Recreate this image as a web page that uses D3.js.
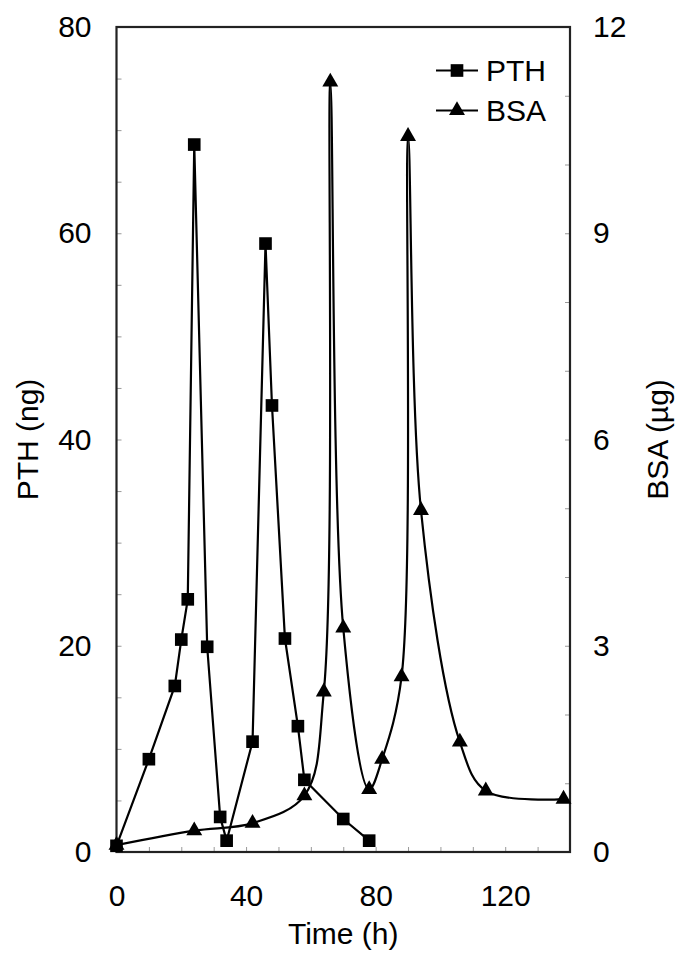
<!DOCTYPE html>
<html>
<head>
<meta charset="utf-8">
<script src="https://cdn.jsdelivr.net/npm/d3@7"></script>
<style>
  body { margin: 0; background: #fff; }
  text { font-family: "Liberation Sans", Arial, sans-serif; fill: #000; }
</style>
</head>
<body>
<script>
// PTH release (left axis, ng)
var timePTH = [0, 10, 18, 20, 22, 24, 28, 32, 34, 42, 46, 48, 52, 56, 58, 70, 78];
var pth = [0.6, 9, 16.1, 20.6, 24.5, 68.6, 19.9, 3.4, 1.1, 10.7, 59, 43.3, 20.7, 12.2, 7, 3.2, 1.1];
// BSA release (right axis, ug)
var timeBSA = [0, 24, 42, 58, 64, 66, 70, 78, 82, 88, 90, 94, 106, 114, 138];
var bsa = [0.1, 0.31, 0.42, 0.82, 2.33, 11.2, 3.26, 0.91, 1.35, 2.55, 10.41, 4.97, 1.6, 0.89, 0.77];

var xTicks = [0, 40, 80, 120];
var yLeftTicks = [0, 20, 40, 60, 80];
var yRightTicks = [0, 3, 6, 9, 12];

var W = 690, H = 962;
var m = {left: 116.5, top: 27, right: 120, bottom: 110};
var iw = W - m.left - m.right, ih = H - m.top - m.bottom;

var svg = d3.select("body").append("svg").attr("width", W).attr("height", H);
var g = svg.append("g").attr("transform", "translate(" + m.left + "," + m.top + ")");

var x = d3.scaleLinear().domain([0, 140]).range([0, iw]);
var yL = d3.scaleLinear().domain([0, 80]).range([ih, 0]);
var yR = d3.scaleLinear().domain([0, 12]).range([ih, 0]);

// minor ticks inside the frame
var tickCol = "#999";
g.append("g").call(d3.axisBottom(x).tickValues(d3.range(10, 140, 10)).tickSize(-5).tickFormat(""))
  .attr("transform", "translate(0," + ih + ")")
  .call(function(a) { a.select(".domain").remove(); a.selectAll("line").attr("stroke", tickCol); });
g.append("g").call(d3.axisLeft(yL).tickValues(d3.range(5, 80, 5)).tickSize(-5).tickFormat(""))
  .call(function(a) { a.select(".domain").remove(); a.selectAll("line").attr("stroke", tickCol); });
g.append("g").attr("transform", "translate(" + iw + ",0)")
  .call(d3.axisRight(yR).tickValues(d3.range(1, 12, 1)).tickSize(-5).tickFormat(""))
  .call(function(a) { a.select(".domain").remove(); a.selectAll("line").attr("stroke", tickCol); });

// tick labels
g.append("g").call(d3.axisBottom(x).tickValues(xTicks).tickSize(0).tickPadding(33))
  .attr("transform", "translate(0," + ih + ")")
  .call(function(a) { a.select(".domain").remove(); a.selectAll("text").attr("font-size", 30).attr("font-family", null); });
g.append("g").call(d3.axisLeft(yL).tickValues(yLeftTicks).tickSize(0).tickPadding(25))
  .call(function(a) { a.select(".domain").remove(); a.selectAll("text").attr("font-size", 30).attr("font-family", null); });
g.append("g").attr("transform", "translate(" + iw + ",0)")
  .call(d3.axisRight(yR).tickValues(yRightTicks).tickSize(0).tickPadding(23))
  .call(function(a) { a.select(".domain").remove(); a.selectAll("text").attr("font-size", 30).attr("font-family", null); });

// frame
g.append("rect").attr("width", iw).attr("height", ih)
  .attr("fill", "none").attr("stroke", "#222").attr("stroke-width", 2.2);

// axis titles
svg.append("text").attr("x", m.left + iw / 2).attr("y", 944)
  .attr("text-anchor", "middle").attr("font-size", 30).text("Time (h)");
svg.append("text").attr("transform", "translate(38," + (m.top + ih / 2) + ") rotate(-90)")
  .attr("text-anchor", "middle").attr("font-size", 30).text("PTH (ng)");
svg.append("text").attr("transform", "translate(668," + (m.top + ih / 2) + ") rotate(-90)")
  .attr("text-anchor", "middle").attr("font-size", 30).text("BSA (µg)");

var pthData = timePTH.map(function(t, i) { return [t, pth[i]]; });
var bsaData = timeBSA.map(function(t, i) { return [t, bsa[i]]; });

var lineP = d3.line().x(function(d) { return x(d[0]); }).y(function(d) { return yL(d[1]); });
var lineB = d3.line().x(function(d) { return x(d[0]); }).y(function(d) { return yR(d[1]); })
  .curve(d3.curveCatmullRom.alpha(0.5));

g.append("path").datum(bsaData).attr("d", lineB)
  .attr("fill", "none").attr("stroke", "#000").attr("stroke-width", 2.2);
g.append("path").datum(pthData).attr("d", lineP)
  .attr("fill", "none").attr("stroke", "#000").attr("stroke-width", 2.2);

var sq = d3.symbol().type(d3.symbolSquare).size(160);
var tri = d3.symbol().type(d3.symbolTriangle).size(110);

g.selectAll(".tri").data(bsaData).enter().append("path")
  .attr("d", tri).attr("fill", "#000")
  .attr("transform", function(d) { return "translate(" + x(d[0]) + "," + yR(d[1]) + ")"; });
g.selectAll(".sq").data(pthData).enter().append("path")
  .attr("d", sq).attr("fill", "#000")
  .attr("transform", function(d) { return "translate(" + x(d[0]) + "," + yL(d[1]) + ")"; });

// legend
var leg = svg.append("g");
var items = [{name: "PTH", sym: sq, y: 70.5}, {name: "BSA", sym: tri, y: 110.5}];
items.forEach(function(it) {
  leg.append("line").attr("x1", 436).attr("x2", 478).attr("y1", it.y).attr("y2", it.y)
    .attr("stroke", "#000").attr("stroke-width", 2.2);
  leg.append("path").attr("d", it.sym).attr("fill", "#000")
    .attr("transform", "translate(457," + it.y + ")");
  leg.append("text").attr("x", 486).attr("y", it.y).attr("dy", "0.35em")
    .attr("font-size", 30).text(it.name);
});
</script>
</body>
</html>
